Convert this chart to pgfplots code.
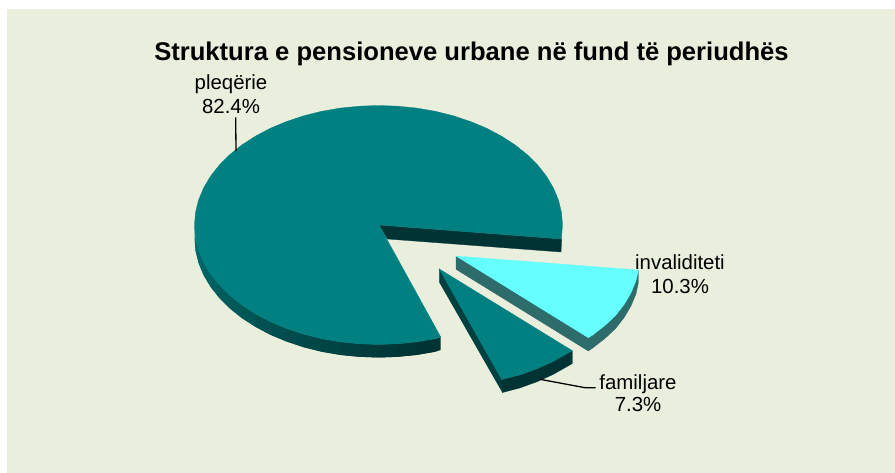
\documentclass[border=0pt]{standalone}
\usepackage{fontspec}
\setmainfont{Liberation Sans}
\usepackage{pgfplots}
\pgfplotsset{compat=1.18}
\definecolor{panel}{HTML}{EAEFDD}
\definecolor{teal1}{HTML}{008080}
\definecolor{cyan1}{HTML}{66FFFF}
\definecolor{cyanwall}{HTML}{2E6B6B}
\definecolor{darkwall}{HTML}{003333}
\definecolor{sa}{HTML}{006E6E}
\definecolor{si}{HTML}{004040}
\pgfplotsset{
  wedge/.style={fill={#1},draw={#1},line width=0.3pt,mark=none,forget plot},
  band/.style={fill={#1},draw=none,mark=none,forget plot},
  lead/.style={draw=black,line width=1.3pt,mark=none,forget plot}
}
\newcommand{\lab}[3]{\node[anchor=base,inner sep=0pt,font=\fontsize{#1}{#1}\selectfont] at (axis cs:#2) {#3};}
\begin{document}
\begin{tikzpicture}
\begin{axis}[
  scale only axis,width=895pt,height=473pt,
  xmin=0,xmax=895,ymin=0,ymax=473,y dir=reverse,
  hide axis,enlargelimits=false,clip=false]
% page and background panel
\addplot[fill=white,draw=none,forget plot] coordinates {(0,0)(895,0)(895,473)(0,473)} --cycle;
\addplot[fill=panel,draw=none,forget plot] coordinates {(7,9)(895,9)(895,473)(7,473)} --cycle;
% main slice: curved side wall, dark towards the bottom; each band runs under the next
\addplot[band=darkwall!0!sa] coordinates {(194.5,225)(195.5,237.5)(198.5,249.8)(198.5,262.8)(195.5,250.5)(194.5,238)} --cycle;
\addplot[band=darkwall!6!sa] coordinates {(195.5,237.5)(198.5,249.8)(203.5,261.9)(203.5,274.9)(198.5,262.8)(195.5,250.5)} --cycle;
\addplot[band=darkwall!12!sa] coordinates {(198.5,249.8)(203.5,261.9)(210.4,273.6)(210.4,286.6)(203.5,274.9)(198.5,262.8)} --cycle;
\addplot[band=darkwall!18!sa] coordinates {(203.5,261.9)(210.4,273.6)(219.2,284.8)(219.2,297.8)(210.4,286.6)(203.5,274.9)} --cycle;
\addplot[band=darkwall!24!sa] coordinates {(210.4,273.6)(219.2,284.8)(229.6,295.2)(229.6,308.2)(219.2,297.8)(210.4,286.6)} --cycle;
\addplot[band=darkwall!30!sa] coordinates {(219.2,284.8)(229.6,295.2)(241.8,305)(241.8,318)(229.6,308.2)(219.2,297.8)} --cycle;
\addplot[band=darkwall!36!sa] coordinates {(229.6,295.2)(241.8,305)(255.4,313.8)(255.4,326.8)(241.8,318)(229.6,308.2)} --cycle;
\addplot[band=darkwall!42!sa] coordinates {(241.8,305)(255.4,313.8)(270.3,321.7)(270.3,334.7)(255.4,326.8)(241.8,318)} --cycle;
\addplot[band=darkwall!48!sa] coordinates {(255.4,313.8)(270.3,321.7)(286.5,328.5)(286.5,341.5)(270.3,334.7)(255.4,326.8)} --cycle;
\addplot[band=darkwall!54!sa] coordinates {(270.3,321.7)(286.5,328.5)(303.7,334.2)(303.7,347.2)(286.5,341.5)(270.3,334.7)} --cycle;
\addplot[band=darkwall!60!sa] coordinates {(286.5,328.5)(303.7,334.2)(321.6,338.7)(321.6,351.7)(303.7,347.2)(286.5,341.5)} --cycle;
\addplot[band=darkwall!66!sa] coordinates {(303.7,334.2)(321.6,338.7)(340.2,341.9)(340.2,354.9)(321.6,351.7)(303.7,347.2)} --cycle;
\addplot[band=darkwall!72!sa] coordinates {(321.6,338.7)(340.2,341.9)(359.3,343.8)(359.3,356.8)(340.2,354.9)(321.6,351.7)} --cycle;
\addplot[band=darkwall!78!sa] coordinates {(340.2,341.9)(359.3,343.8)(378.5,344.5)(378.5,357.5)(359.3,356.8)(340.2,354.9)} --cycle;
\addplot[band=darkwall!84!sa] coordinates {(359.3,343.8)(378.5,344.5)(397.7,343.8)(397.7,356.8)(378.5,357.5)(359.3,356.8)} --cycle;
\addplot[band=darkwall!90!sa] coordinates {(378.5,344.5)(397.7,343.8)(416.8,341.9)(416.8,354.9)(397.7,356.8)(378.5,357.5)} --cycle;
\addplot[band=darkwall!95!sa] coordinates {(397.7,343.8)(416.8,341.9)(435.4,338.7)(435.4,351.7)(416.8,354.9)(397.7,356.8)} --cycle;
\addplot[band=darkwall] coordinates {(416.8,341.9)(435.4,338.7)(440.7,337)(440.7,350)(435.4,351.7)(416.8,354.9)} --cycle;
% main slice: wall of the cut
\addplot[wedge=darkwall] coordinates {(379,225)(561.7,239)(561,252)(387.5,239)} --cycle;
% main slice: top
\addplot[wedge=teal1] coordinates {(379,225)(561.7,239)(561.5,237.5)(562.5,225)(561.5,212.5)(558.5,200.2)(553.5,188.1)(546.6,176.4)(537.8,165.2)(527.4,154.8)(515.2,145)(501.6,136.2)(486.7,128.3)(470.5,121.5)(453.3,115.8)(435.4,111.3)(416.8,108.1)(397.7,106.2)(378.5,105.5)(359.3,106.2)(340.2,108.1)(321.6,111.3)(303.7,115.8)(286.5,121.5)(270.3,128.3)(255.4,136.2)(241.8,145)(229.6,154.8)(219.2,165.2)(210.4,176.4)(203.5,188.1)(198.5,200.2)(195.5,212.5)(194.5,225)(195.5,237.5)(198.5,249.8)(203.5,261.9)(210.4,273.6)(219.2,284.8)(229.6,295.2)(241.8,305)(255.4,313.8)(270.3,321.7)(286.5,328.5)(303.7,334.2)(321.6,338.7)(340.2,341.9)(359.3,343.8)(378.5,344.5)(397.7,343.8)(416.8,341.9)(435.4,338.7)(440.7,337)} --cycle;
% familjare slice
\addplot[wedge=si] coordinates {(439.3,269)(439.3,282)(502.5,392.5)(501.7,379)} --cycle;
\addplot[wedge=darkwall] coordinates {(501.7,379)(520,374.9)(536.8,368.8)(552.6,361.7)(567.1,353.5)(572.3,350.7)(572.3,363.5)(567.1,366.5)(552.6,374.7)(536.8,381.8)(520,387.9)(502.5,392.5)} --cycle;
\addplot[wedge=teal1] coordinates {(439.3,269)(501.7,379.5)(520,374.9)(536.8,368.8)(552.6,361.7)(567.1,353.5)(572.3,350.7)} --cycle;
% invaliditeti slice
\addplot[wedge=cyanwall] coordinates {(456,256)(456,269.3)(588.3,351)(592.7,348)(604.9,338.5)(615.3,328.8)(624.1,317.6)(631,305.9)(636,293.8)(638.3,283)(638.3,270)(588.3,337.7)} --cycle;
\addplot[wedge=cyan1] coordinates {(456,256)(638.3,270)(636,280.8)(631,292.9)(624.1,304.6)(615.3,315.8)(604.9,325.5)(592.7,335)(588.3,337.7)} --cycle;
% leader lines
\addplot[lead] coordinates {(235.7,117.3)(236,151)};
\addplot[lead] coordinates {(540,379.3)(585,387.7)(595.7,387.7)};
% texts
\node[anchor=base,inner sep=0pt,font=\fontsize{25.6}{25.6}\selectfont\bfseries] at (axis cs:471.5,61) {Struktura e pensioneve urbane në fund të periudhës};
\lab{20.4}{231,89.5}{pleqërie}
\lab{20.4}{231,113.3}{82.4\%}
\lab{20.4}{680,270}{invaliditeti}
\lab{20.4}{680,293.3}{10.3\%}
\lab{20.4}{638,389}{familjare}
\lab{20.4}{638,411.7}{7.3\%}
\end{axis}
\end{tikzpicture}
\end{document}
